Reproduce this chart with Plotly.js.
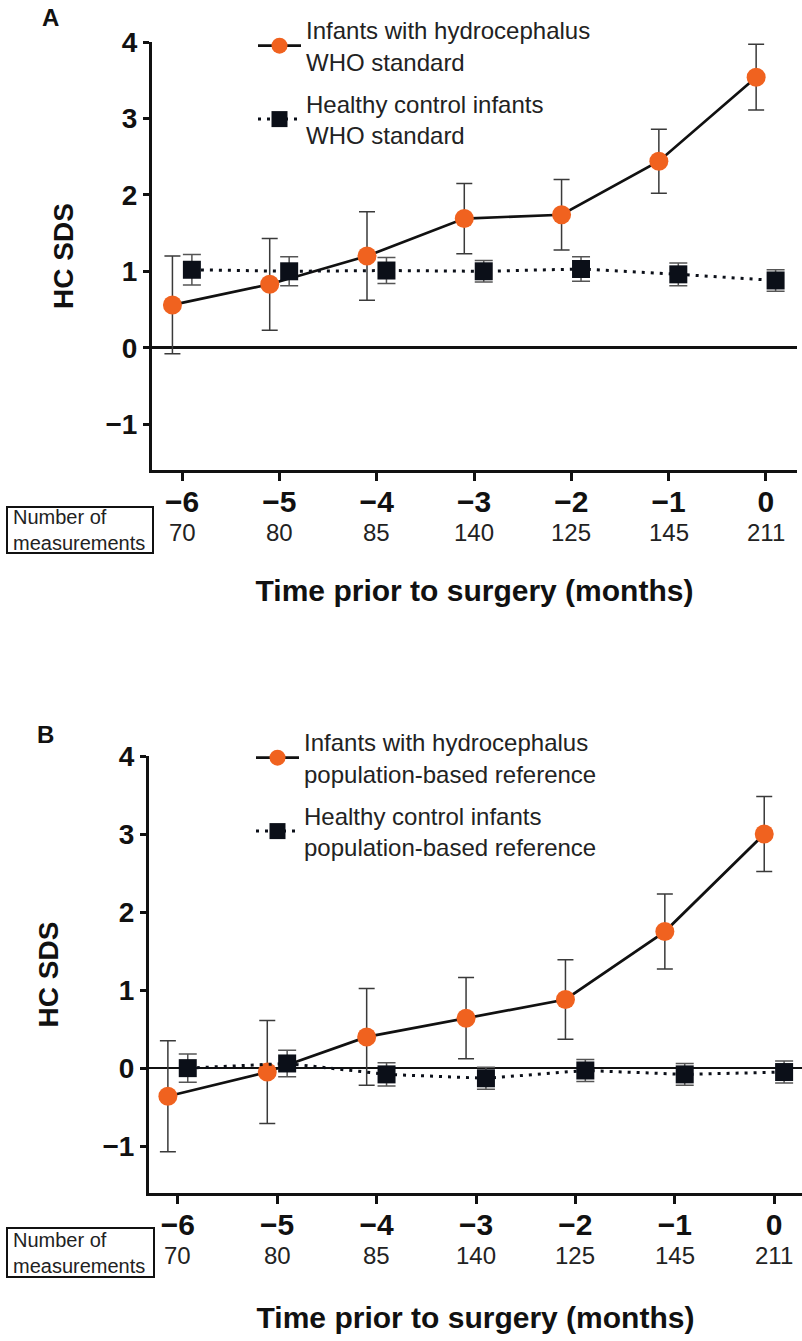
<!DOCTYPE html>
<html><head><meta charset="utf-8">
<script src="https://cdn.plot.ly/plotly-3.0.1.min.js"></script>
<style>html,body{margin:0;padding:0;background:#fff}#chart{width:802px;height:1341px}</style>
</head><body><div id="chart"></div>
<script>
// ---- data ----
const months = [-6, -5, -4, -3, -2, -1, 0];
const nMeasurements = [70, 80, 85, 140, 125, 145, 211];

const hydroWHO      = [0.56, 0.83, 1.20, 1.69, 1.74, 2.44, 3.54];
const hydroWHOErr   = [0.64, 0.60, 0.58, 0.46, 0.46, 0.42, 0.43];
const controlWHO    = [1.02, 1.00, 1.01, 1.00, 1.03, 0.96, 0.88];
const controlWHOErr = [0.20, 0.19, 0.17, 0.14, 0.16, 0.15, 0.14];

const hydroPop      = [-0.36, -0.05, 0.40, 0.64, 0.88, 1.75, 3.00];
const hydroPopErr   = [0.71, 0.66, 0.62, 0.52, 0.51, 0.48, 0.48];
const controlPop    = [0.00, 0.06, -0.08, -0.13, -0.03, -0.08, -0.05];
const controlPopErr = [0.18, 0.17, 0.15, 0.14, 0.14, 0.14, 0.14];

const yTicks = [-1, 0, 1, 2, 3, 4];
const namesA = ['Infants with hydrocephalus<br>WHO standard', 'Healthy control infants<br>WHO standard'];
const namesB = ['Infants with hydrocephalus<br>population-based reference', 'Healthy control infants<br>population-based reference'];

// ---- styling ----
const ORANGE = '#F0621F';
const DARK = '#0b0f18';
const W = 802, H = 1341;
const dodge = 0.1;
const sans = 'Liberation Sans, Arial, Helvetica, sans-serif';

function hydroTrace(y, err, xa, ya, name, lg, grp) {
  return {
    type: 'scatter', mode: 'lines+markers', name: name, legend: lg, legendgroup: grp,
    x: months.map(m => m - dodge), y: y, xaxis: xa, yaxis: ya,
    line: {color: '#111', width: 2.7},
    marker: {color: ORANGE, size: 19, symbol: 'circle'},
    error_y: {type: 'data', array: err, visible: true, color: '#3a3a3a', thickness: 1.5, width: 8},
    hoverinfo: 'x+y'
  };
}
function controlTrace(y, err, xa, ya, name, lg, grp) {
  return {
    type: 'scatter', mode: 'lines+markers', name: name, legend: lg, legendgroup: grp,
    x: months.map(m => m + dodge), y: y, xaxis: xa, yaxis: ya,
    line: {color: DARK, width: 3, dash: '3px,6px'},
    marker: {color: DARK, size: 18, symbol: 'square'},
    error_y: {type: 'data', array: err, visible: true, color: '#555', thickness: 1.5, width: 9},
    hoverinfo: 'x+y'
  };
}

const traces = [
  hydroTrace(hydroWHO, hydroWHOErr, 'x', 'y', namesA[0], 'legend', 'a1'),
  controlTrace(controlWHO, controlWHOErr, 'x', 'y', namesA[1], 'legend', 'a2'),
  hydroTrace(hydroPop, hydroPopErr, 'x2', 'y2', namesB[0], 'legend2', 'b1'),
  controlTrace(controlPop, controlPopErr, 'x2', 'y2', namesB[1], 'legend2', 'b2')
];

const xBase = {
  showline: true, linewidth: 3, linecolor: '#111', showgrid: false, zeroline: false,
  ticks: 'outside', ticklen: 8, tickwidth: 3, tickcolor: '#111', ticklabelstandoff: -5,
  tickvals: months, tickfont: {size: 30, family: sans, weight: 'bold', color: '#111'},
  fixedrange: true
};
const yBase = {
  showline: true, linewidth: 3, linecolor: '#111', showgrid: false,
  zeroline: true, zerolinewidth: 2.5, zerolinecolor: '#111',
  ticks: 'outside', ticklen: 6, tickwidth: 3, tickcolor: '#111',
  tickvals: yTicks, range: [-1.6, 4.0],
  tickfont: {size: 28, family: sans, weight: 'bold', color: '#111'},
  fixedrange: true
};
const xTitleA = {text: 'Time prior to surgery (months)', font: {size: 30, family: sans, weight: 'bold', color: '#111'}, standoff: 63};
const xTitleB = {text: 'Time prior to surgery (months)', font: {size: 30, family: sans, weight: 'bold', color: '#111'}, standoff: 67};

// plot areas in pixels
const A = {l: 152, r: 797, t: 42, b: 470};
const B = {l: 149, r: 802, t: 756, b: 1193};
const px = v => v / W, py = v => 1 - v / H;

const legendBase = {xanchor: 'left', yanchor: 'top', bgcolor: 'rgba(0,0,0,0)', traceorder: 'grouped', tracegroupgap: 8,
  font: {size: 24, family: sans, color: '#222'}, valign: 'middle', itemwidth: 43, itemclick: false, itemdoubleclick: false};

const layout = {
  width: W, height: H, margin: {l: 0, r: 0, t: 0, b: 0},
  paper_bgcolor: '#fff', plot_bgcolor: '#fff',
  font: {family: sans, color: '#111'},
  showlegend: true,
  xaxis: Object.assign({}, xBase, {domain: [px(A.l), px(A.r)], range: [-6.31, 0.32], anchor: 'y', title: xTitleA}),
  yaxis: Object.assign({}, yBase, {domain: [py(A.b), py(A.t)], anchor: 'x',
    title: {text: 'HC SDS', font: {size: 28, family: sans, weight: 'bold', color: '#111'}, standoff: 24}}),
  xaxis2: Object.assign({}, xBase, {domain: [px(B.l), px(B.r)], range: [-6.29, 0.28], anchor: 'y2', title: xTitleB}),
  yaxis2: Object.assign({}, yBase, {domain: [py(B.b), py(B.t)], anchor: 'x2',
    title: {text: 'HC SDS', font: {size: 28, family: sans, weight: 'bold', color: '#111'}, standoff: 36}}),
  legend: Object.assign({}, legendBase, {x: px(253), y: py(8)}),
  legend2: Object.assign({}, legendBase, {x: px(251), y: py(720)}),
  shapes: [
    {type: 'rect', xref: 'paper', yref: 'paper', x0: px(7), x1: px(153), y0: py(553), y1: py(507), line: {color: '#111', width: 2}},
    {type: 'rect', xref: 'paper', yref: 'paper', x0: px(7), x1: px(154), y0: py(1277), y1: py(1228), line: {color: '#111', width: 2}}
  ],
  annotations: []
};

// panel labels
layout.annotations.push({text: 'A', xref: 'paper', yref: 'paper', x: px(51), y: py(18), xanchor: 'center', yanchor: 'middle',
  showarrow: false, font: {size: 24, family: sans, weight: 'bold', color: '#111'}});
layout.annotations.push({text: 'B', xref: 'paper', yref: 'paper', x: px(45), y: py(735), xanchor: 'center', yanchor: 'middle',
  showarrow: false, font: {size: 24, family: sans, weight: 'bold', color: '#111'}});

// measurement counts
[['x', A.b], ['x2', B.b]].forEach(([xa, bottom]) => {
  months.forEach((m, i) => {
    layout.annotations.push({text: String(nMeasurements[i]), xref: xa, x: m, xanchor: 'center', yref: 'paper', y: py(bottom + 62),
      yanchor: 'middle', showarrow: false, font: {size: 24, family: sans, color: '#222'}});
  });
  layout.annotations.push({text: 'Number of<br>measurements', xref: 'paper', x: px(11), xanchor: 'left', align: 'left',
    yref: 'paper', y: py(bottom + 60), yanchor: 'middle', showarrow: false,
    font: {size: 20, family: sans, color: '#222'}});
});

Plotly.newPlot('chart', traces, layout, {staticPlot: true, displayModeBar: false});
</script>
</body></html>
